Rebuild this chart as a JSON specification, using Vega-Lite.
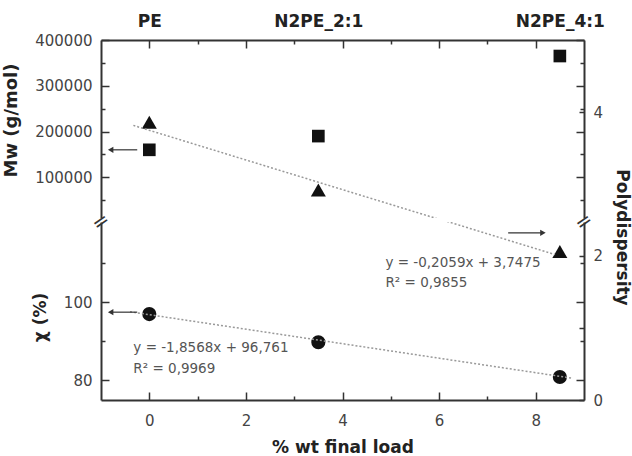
{
  "$schema": "https://vega.github.io/schema/vega-lite/v6.json",
  "background": "white",
  "padding": {"left": 2, "top": 8, "right": 4, "bottom": 4},
  "bounds": "flush",
  "spacing": 4,
  "config": {
    "font": "DejaVu Sans",
    "view": {"stroke": null},
    "axis": {
      "grid": false,
      "labelFont": "DejaVu Sans",
      "labelFontSize": 15,
      "labelColor": "#444",
      "titleFont": "DejaVu Sans",
      "titleFontSize": 17,
      "titleFontWeight": "bold",
      "titleColor": "#222",
      "domainColor": "#333",
      "domainWidth": 2,
      "tickColor": "#333",
      "tickWidth": 1.5,
      "labelFlush": false,
      "labelOverlap": false
    }
  },
  "datasets": {
    "pts": [
      {"load": 0, "Mw": 160000, "poly": 3.86, "chi": 96.9},
      {"load": 3.5, "Mw": 190000, "poly": 2.92, "chi": 89.7},
      {"load": 8.5, "Mw": 365000, "poly": 2.06, "chi": 80.8}
    ],
    "polyfit": [{"load": -0.33, "poly": 3.815}, {"load": 8.4, "poly": 2.018}],
    "chifit": [{"load": -0.4, "chi": 97.5}, {"load": 8.75, "chi": 80.5}],
    "arrowMw": [{"from": -0.25, "to": -0.8, "Mw": 160000}],
    "arrowChi": [{"from": -0.25, "to": -0.8, "chi": 97.4}],
    "arrowPoly": [{"from": 7.43, "to": 8.15, "poly": 2.32}],
    "eqPoly": [
      {"load": 4.89, "poly": 1.9, "label": "y = -0,2059x + 3,7475"},
      {"load": 4.89, "poly": 1.62, "label": "R² = 0,9855"}
    ],
    "eqChi": [
      {"load": -0.33, "chi": 88.2, "label": "y = -1,8568x + 96,761"},
      {"load": -0.33, "chi": 82.8, "label": "R² = 0,9969"}
    ],
    "breaks": [{"load": -1, "chi": 120.5}, {"load": 9, "chi": 120.5}]
  },
  "vconcat": [
    {
      "width": 483,
      "height": 178,
      "layer": [
        {
          "data": {"name": "pts"},
          "mark": {"type": "square", "size": 160, "color": "#111", "opacity": 1},
          "encoding": {
            "x": {
              "field": "load", "type": "quantitative",
              "scale": {"domain": [-1, 9], "nice": false, "zero": false},
              "axis": {
                "orient": "top",
                "values": [0, 1, 2, 3, 3.5, 4, 5, 6, 7, 8, 8.5],
                "labelExpr": "datum.value === 0 ? 'PE' : datum.value === 3.5 ? 'N2PE_2:1' : datum.value === 8.5 ? 'N2PE_4:1' : ''",
                "tickSize": {"condition": {"test": "datum.value % 2 === 0 || datum.value === 3.5 || datum.value === 8.5", "value": -8}, "value": -4},
                "tickOpacity": {"condition": {"test": "datum.value === 3.5 || datum.value === 8.5", "value": 0}, "value": 1},
                "labelPadding": 18,
                "labelFontWeight": "bold",
                "labelFontSize": 17,
                "labelColor": "#222",
                "title": null
              }
            },
            "y": {
              "field": "Mw", "type": "quantitative",
              "scale": {"domain": [11000, 400000], "nice": false, "zero": false},
              "axis": {
                "orient": "left",
                "values": [50000, 100000, 150000, 200000, 250000, 300000, 350000, 400000],
                "format": "d",
                "labelExpr": "datum.value % 100000 === 0 ? datum.label : ''",
                "tickSize": {"condition": {"test": "datum.value % 100000 === 0", "value": -8}, "value": -4},
                "labelPadding": 17,
                "title": "Mw (g/mol)",
                "titleFontSize": 18,
                "titleY": 80,
                "titlePadding": 14
              }
            }
          }
        },
        {
          "data": {"name": "arrowMw"},
          "mark": {"type": "rule", "color": "#333", "strokeWidth": 1.2},
          "encoding": {
            "x": {"field": "from", "type": "quantitative", "scale": {"domain": [-1, 9], "nice": false, "zero": false}, "axis": null},
            "x2": {"field": "to"},
            "y": {"field": "Mw", "type": "quantitative", "scale": {"domain": [11000, 400000], "nice": false, "zero": false}, "axis": null}
          }
        },
        {
          "data": {"name": "arrowMw"},
          "mark": {"type": "point", "shape": "triangle-left", "filled": true, "size": 40, "color": "#333", "opacity": 1},
          "encoding": {
            "x": {"field": "to", "type": "quantitative", "scale": {"domain": [-1, 9], "nice": false, "zero": false}, "axis": null},
            "y": {"field": "Mw", "type": "quantitative", "scale": {"domain": [11000, 400000], "nice": false, "zero": false}, "axis": null}
          }
        },
        {
          "data": {"name": "pts"},
          "transform": [{"filter": "datum.poly > 2.5"}],
          "mark": {"type": "point", "shape": "triangle-up", "filled": true, "size": 225, "color": "#111", "opacity": 1},
          "encoding": {
            "x": {"field": "load", "type": "quantitative", "scale": {"domain": [-1, 9], "nice": false, "zero": false}, "axis": null},
            "y": {
              "field": "poly", "type": "quantitative",
              "scale": {"domain": [2.53, 5], "nice": false, "zero": false},
              "axis": {
                "orient": "right",
                "values": [4],
                "tickSize": -5,
                "labelPadding": 14,
                "title": "Polydispersity",
                "titleY": 197,
                "titlePadding": 10
              }
            }
          }
        },
        {
          "data": {"name": "polyfit"},
          "mark": {"type": "line", "clip": true, "color": "#999", "strokeWidth": 1.5, "strokeDash": [2, 2]},
          "encoding": {
            "x": {"field": "load", "type": "quantitative", "scale": {"domain": [-1, 9], "nice": false, "zero": false}, "axis": null},
            "y": {"field": "poly", "type": "quantitative", "scale": {"domain": [2.53, 5], "nice": false, "zero": false}, "axis": null}
          }
        },
        {
          "data": {"name": "pts"},
          "mark": {"type": "square", "size": 10, "opacity": 0},
          "encoding": {
            "x": {"field": "load", "type": "quantitative", "scale": {"domain": [-1, 9], "nice": false, "zero": false}, "axis": null},
            "y": {
              "field": "Mw", "type": "quantitative",
              "scale": {"domain": [11000, 400000], "nice": false, "zero": false},
              "axis": {
                "orient": "right",
                "values": [50000, 100000, 150000, 200000, 250000, 300000, 350000, 400000],
                "labels": false,
                "domain": false,
                "tickSize": {"condition": {"test": "datum.value % 100000 === 0", "value": -8}, "value": -4},
                "title": null
              }
            }
          }
        }
      ],
      "resolve": {"scale": {"y": "independent"}, "axis": {"x": "independent", "y": "independent"}}
    },
    {
      "width": 483,
      "height": 178,
      "layer": [
        {
          "data": {"name": "pts"},
          "mark": {"type": "circle", "size": 200, "color": "#111", "opacity": 1},
          "encoding": {
            "x": {
              "field": "load", "type": "quantitative",
              "scale": {"domain": [-1, 9], "nice": false, "zero": false},
              "axis": {
                "orient": "bottom",
                "values": [0, 1, 2, 3, 4, 5, 6, 7, 8],
                "labelExpr": "datum.value % 2 === 0 ? datum.label : ''",
                "tickSize": {"condition": {"test": "datum.value % 2 === 0", "value": -8}, "value": -4},
                "labelPadding": 21,
                "title": "% wt final load",
                "titlePadding": 7
              }
            },
            "y": {
              "field": "chi", "type": "quantitative",
              "scale": {"domain": [74.9, 120.5], "nice": false, "zero": false},
              "axis": {
                "orient": "left",
                "values": [80, 90, 100, 110],
                "labelExpr": "datum.value % 20 === 0 ? datum.label : ''",
                "tickSize": {"condition": {"test": "datum.value % 20 === 0", "value": -8}, "value": -4},
                "labelPadding": 17,
                "title": "χ (%)",
                "titleY": 95,
                "titlePadding": 14
              }
            }
          }
        },
        {
          "data": {"name": "chifit"},
          "mark": {"type": "line", "clip": true, "color": "#999", "strokeWidth": 1.5, "strokeDash": [2, 2]},
          "encoding": {
            "x": {"field": "load", "type": "quantitative", "scale": {"domain": [-1, 9], "nice": false, "zero": false}, "axis": null},
            "y": {"field": "chi", "type": "quantitative", "scale": {"domain": [74.9, 120.5], "nice": false, "zero": false}, "axis": null}
          }
        },
        {
          "data": {"name": "arrowChi"},
          "mark": {"type": "rule", "color": "#333", "strokeWidth": 1.2},
          "encoding": {
            "x": {"field": "from", "type": "quantitative", "scale": {"domain": [-1, 9], "nice": false, "zero": false}, "axis": null},
            "x2": {"field": "to"},
            "y": {"field": "chi", "type": "quantitative", "scale": {"domain": [74.9, 120.5], "nice": false, "zero": false}, "axis": null}
          }
        },
        {
          "data": {"name": "arrowChi"},
          "mark": {"type": "point", "shape": "triangle-left", "filled": true, "size": 40, "color": "#333", "opacity": 1},
          "encoding": {
            "x": {"field": "to", "type": "quantitative", "scale": {"domain": [-1, 9], "nice": false, "zero": false}, "axis": null},
            "y": {"field": "chi", "type": "quantitative", "scale": {"domain": [74.9, 120.5], "nice": false, "zero": false}, "axis": null}
          }
        },
        {
          "data": {"name": "eqChi"},
          "mark": {"type": "text", "align": "left", "baseline": "middle", "fontSize": 13.5, "color": "#555", "font": "DejaVu Sans"},
          "encoding": {
            "x": {"field": "load", "type": "quantitative", "scale": {"domain": [-1, 9], "nice": false, "zero": false}, "axis": null},
            "y": {"field": "chi", "type": "quantitative", "scale": {"domain": [74.9, 120.5], "nice": false, "zero": false}, "axis": null},
            "text": {"field": "label"}
          }
        },
        {
          "data": {"name": "breaks"},
          "mark": {"type": "text", "align": "center", "baseline": "middle", "fontSize": 20, "angle": 325, "color": "#333", "text": "="},
          "encoding": {
            "x": {"field": "load", "type": "quantitative", "scale": {"domain": [-1, 9], "nice": false, "zero": false}, "axis": null},
            "y": {"field": "chi", "type": "quantitative", "scale": {"domain": [74.9, 120.5], "nice": false, "zero": false}, "axis": null}
          }
        },
        {
          "data": {"name": "pts"},
          "transform": [{"filter": "datum.poly < 2.5"}],
          "mark": {"type": "point", "shape": "triangle-up", "filled": true, "size": 225, "color": "#111", "opacity": 1},
          "encoding": {
            "x": {"field": "load", "type": "quantitative", "scale": {"domain": [-1, 9], "nice": false, "zero": false}, "axis": null},
            "y": {
              "field": "poly", "type": "quantitative",
              "scale": {"domain": [0, 2.47], "nice": false, "zero": false},
              "axis": {
                "orient": "right",
                "values": [0, 1, 2],
                "labelExpr": "datum.value === 1 ? '' : datum.label",
                "tickSize": -5,
                "labelPadding": 14,
                "title": null
              }
            }
          }
        },
        {
          "data": {"name": "polyfit"},
          "mark": {"type": "line", "clip": true, "color": "#999", "strokeWidth": 1.5, "strokeDash": [2, 2]},
          "encoding": {
            "x": {"field": "load", "type": "quantitative", "scale": {"domain": [-1, 9], "nice": false, "zero": false}, "axis": null},
            "y": {"field": "poly", "type": "quantitative", "scale": {"domain": [0, 2.47], "nice": false, "zero": false}, "axis": null}
          }
        },
        {
          "data": {"name": "arrowPoly"},
          "mark": {"type": "rule", "color": "#333", "strokeWidth": 1.2},
          "encoding": {
            "x": {"field": "from", "type": "quantitative", "scale": {"domain": [-1, 9], "nice": false, "zero": false}, "axis": null},
            "x2": {"field": "to"},
            "y": {"field": "poly", "type": "quantitative", "scale": {"domain": [0, 2.47], "nice": false, "zero": false}, "axis": null}
          }
        },
        {
          "data": {"name": "arrowPoly"},
          "mark": {"type": "point", "shape": "triangle-right", "filled": true, "size": 40, "color": "#333", "opacity": 1},
          "encoding": {
            "x": {"field": "to", "type": "quantitative", "scale": {"domain": [-1, 9], "nice": false, "zero": false}, "axis": null},
            "y": {"field": "poly", "type": "quantitative", "scale": {"domain": [0, 2.47], "nice": false, "zero": false}, "axis": null}
          }
        },
        {
          "data": {"name": "eqPoly"},
          "mark": {"type": "text", "align": "left", "baseline": "middle", "fontSize": 13.5, "color": "#555", "font": "DejaVu Sans"},
          "encoding": {
            "x": {"field": "load", "type": "quantitative", "scale": {"domain": [-1, 9], "nice": false, "zero": false}, "axis": null},
            "y": {"field": "poly", "type": "quantitative", "scale": {"domain": [0, 2.47], "nice": false, "zero": false}, "axis": null},
            "text": {"field": "label"}
          }
        },
        {
          "data": {"name": "pts"},
          "mark": {"type": "circle", "size": 10, "opacity": 0},
          "encoding": {
            "x": {"field": "load", "type": "quantitative", "scale": {"domain": [-1, 9], "nice": false, "zero": false}, "axis": null},
            "y": {
              "field": "chi", "type": "quantitative",
              "scale": {"domain": [74.9, 120.5], "nice": false, "zero": false},
              "axis": {
                "orient": "right",
                "values": [80, 90, 100, 110],
                "labels": false,
                "domain": false,
                "tickSize": {"condition": {"test": "datum.value % 20 === 0", "value": -8}, "value": -4},
                "title": null
              }
            }
          }
        }
      ],
      "resolve": {"scale": {"y": "independent"}, "axis": {"x": "independent", "y": "independent"}}
    }
  ]
}
